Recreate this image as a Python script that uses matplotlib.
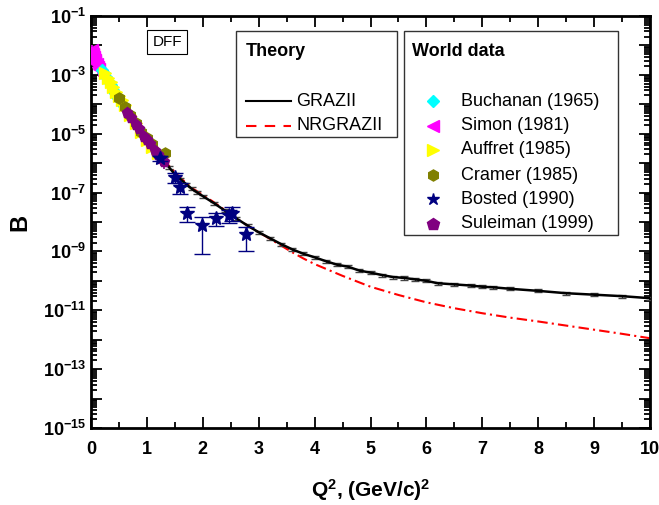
import numpy as np
import matplotlib
matplotlib.use('Agg')
import matplotlib.pyplot as plt
from matplotlib.ticker import FixedLocator, FuncFormatter, MultipleLocator
from matplotlib.patches import Rectangle
from matplotlib.lines import Line2D

plt.rcParams['font.family'] = ['Liberation Sans', 'DejaVu Sans']
plt.rcParams['mathtext.fontset'] = 'custom'
plt.rcParams['mathtext.rm'] = 'Liberation Sans:bold'
plt.rcParams['mathtext.bf'] = 'Liberation Sans:bold'
plt.rcParams['mathtext.default'] = 'bf'

# theory curves (Q^2, log10 B)
grazii_q = [0.05, 0.1, 0.2, 0.3, 0.4, 0.5, 0.6, 0.7, 0.8, 0.9, 1.0, 1.1, 1.2, 1.3,
            1.4, 1.5, 1.6, 1.7, 1.8, 1.9, 2.0, 2.2, 2.4, 2.6, 2.8, 3.0, 3.2, 3.4,
            3.6, 3.8, 4.0, 4.2, 4.4, 4.6, 4.8, 5.0, 5.2, 5.4, 5.6, 5.8, 6.0, 6.2,
            6.5, 6.8, 7.0, 7.2, 7.5, 8.0, 8.5, 9.0, 9.5, 10.0]
grazii_lg = [-2.33, -2.5, -2.8, -3.12, -3.48, -3.8, -4.1, -4.42, -4.72, -5.0, -5.22,
             -5.45, -5.68, -5.9, -6.15, -6.38, -6.55, -6.71, -6.87, -7.0, -7.12,
             -7.36, -7.62, -7.88, -8.12, -8.35, -8.55, -8.75, -8.93, -9.08, -9.2,
             -9.33, -9.45, -9.52, -9.65, -9.72, -9.8, -9.87, -9.9, -9.95, -10.0,
             -10.08, -10.12, -10.16, -10.2, -10.22, -10.27, -10.34, -10.42, -10.47,
             -10.52, -10.59]
nrg_q = [0.05, 0.1, 0.2, 0.3, 0.4, 0.5, 0.6, 0.7, 0.8, 0.9, 1.0, 1.2, 1.4, 1.6,
         1.8, 2.0, 2.2, 2.4, 2.6, 2.8, 3.0, 3.2, 3.4, 3.6, 3.8, 4.0, 4.5, 5.0,
         5.5, 6.0, 6.5, 7.0, 7.5, 8.0, 8.5, 9.0, 9.5, 10.0]
nrg_lg = [-2.33, -2.5, -2.8, -3.12, -3.48, -3.8, -4.1, -4.42, -4.72, -5.0, -5.22,
          -5.66, -6.1, -6.5, -6.84, -7.08, -7.33, -7.6, -7.88, -8.12, -8.35, -8.57,
          -8.8, -9.03, -9.24, -9.43, -9.83, -10.2, -10.48, -10.73, -10.93, -11.1,
          -11.25, -11.38, -11.52, -11.66, -11.8, -11.95]

# world data (Q^2, log10 B)
simon_q = [0.01, 0.02, 0.03, 0.04, 0.05, 0.06, 0.07, 0.08, 0.10, 0.12, 0.14]
simon_lg = [-2.15, -2.22, -2.3, -2.33, -2.38, -2.45, -2.5, -2.55, -2.62, -2.72, -2.8]
buch_q = [0.19, 0.23, 0.27, 0.31, 0.35, 0.39, 0.43, 0.47, 0.55]
buch_lg = [-2.85, -2.95, -3.08, -3.22, -3.35, -3.5, -3.62, -3.75, -3.98]
auff_q = [0.25, 0.3, 0.35, 0.4, 0.45, 0.5, 0.55, 0.6, 0.7, 0.8, 0.9, 1.0, 1.1, 1.2]
auff_lg = [-2.95, -3.1, -3.25, -3.42, -3.57, -3.72, -3.87, -4.02, -4.35, -4.65,
           -4.95, -5.2, -5.45, -5.65]
cram_q = [0.5, 0.6, 0.7, 0.8, 0.9, 1.0, 1.1, 1.33]
cram_lg = [-3.8, -4.08, -4.38, -4.65, -4.95, -5.15, -5.35, -5.66]
sule_q = [0.65, 0.72, 0.8, 0.85, 0.95, 1.0, 1.05, 1.15, 1.2, 1.25, 1.3]
sule_lg = [-4.3, -4.47, -4.7, -4.85, -5.1, -5.22, -5.35, -5.6, -5.72, -5.85, -5.95]
bost_q = [1.24, 1.51, 1.60, 1.72, 1.99, 2.23, 2.46, 2.53, 2.78]
bost_b = [1.5e-6, 3.3e-7, 1.5e-7, 2.1e-8, 7.8e-9, 1.35e-8, 1.7e-8, 2.1e-8, 4.0e-9]
bost_err = [3.0e-7, 1.2e-7, 6.0e-8, 1.1e-8, 7.0e-9, 6.0e-9, 8.0e-9, 1.05e-8, 3.0e-9]

fig = plt.figure(figsize=(6.59, 5.05), dpi=100)
L, R, T, Bt = 91, 650, 16, 428
W, H = 659, 505
ax = fig.add_axes([L / W, 1 - Bt / H, (R - L) / W, (Bt - T) / H])


def ax_x(px):
    return (px - L) / (R - L)


def ax_y(py):
    return (Bt - py) / (Bt - T)


def world(q, lg, color, marker, ms):
    b = 10 ** np.array(lg)
    ax.errorbar(q, b, xerr=0.07, yerr=0.45 * b, fmt=marker, color=color, ms=ms,
                mec=color, elinewidth=1.2, capsize=0, zorder=4)


# theory
gb = 10 ** np.array(grazii_lg)
ax.errorbar(grazii_q, gb, yerr=0.12 * gb, fmt='-', color='black', lw=1.8,
            elinewidth=0.8, ecolor='#444444', capsize=3, zorder=3)
ax.plot(nrg_q, 10 ** np.array(nrg_lg), color='red', lw=1.5,
        linestyle=(0, (5, 2, 1, 2)), zorder=2)

world(simon_q, simon_lg, '#ff00ff', '<', 8)
world(buch_q, buch_lg, '#00ffff', 'D', 6)
world(auff_q, auff_lg, '#ffff00', '>', 8)
world(cram_q, cram_lg, '#808000', 'h', 8)
world(sule_q, sule_lg, '#800080', 'p', 8)
ax.errorbar(bost_q, bost_b, yerr=bost_err, fmt='*', color='#000080', ms=10,
            elinewidth=1, capsize=6, zorder=5)

ax.set_yscale('log')
ax.set_xlim(0, 10)
ax.set_ylim(1e-15, 1e-1)
ax.xaxis.set_major_locator(MultipleLocator(1))
ax.xaxis.set_minor_locator(MultipleLocator(0.5))
ax.yaxis.set_major_locator(FixedLocator([10.0 ** e for e in range(-15, 0)]))
ax.yaxis.set_minor_locator(FixedLocator([m * 10.0 ** e for e in range(-15, -1)
                                         for m in range(2, 10)]))


def ylab(v, pos):
    e = int(round(np.log10(v)))
    if e % 2 == 0:
        return ''
    return r'$10^{%d}$' % e


ax.yaxis.set_major_formatter(FuncFormatter(ylab))
ax.xaxis.set_major_formatter(FuncFormatter(lambda v, p: '%d' % v))
ax.tick_params(which='both', direction='in', top=True, right=True, width=1.3)
ax.tick_params(which='major', length=8, labelsize=13)
ax.tick_params(axis='x', which='major', pad=9)
ax.tick_params(which='minor', length=4)
for lab in ax.get_xticklabels():
    lab.set_fontweight('bold')
for s in ax.spines.values():
    s.set_linewidth(2)

ax.set_xlabel(r'Q$^2$, (GeV/c)$^2$', fontsize=15, fontweight='bold', labelpad=14)
ax.set_ylabel('B', fontsize=17, fontweight='bold', labelpad=8)

# DFF box
ax.text(ax_x(167), ax_y(42), 'DFF', fontsize=11, ha='center', va='center',
        transform=ax.transAxes,
        bbox=dict(boxstyle='square,pad=0.35', fc='white', ec='black', lw=0.8))

# Theory box
ax.add_patch(Rectangle((ax_x(236), ax_y(137)), ax_x(397) - ax_x(236),
                       ax_y(31) - ax_y(137), transform=ax.transAxes,
                       fc='white', ec='#333333', lw=1, zorder=6))
ax.text(ax_x(246), ax_y(52), 'Theory', fontsize=13, fontweight='bold',
        va='center', transform=ax.transAxes, zorder=7)
ax.add_line(Line2D([ax_x(246), ax_x(291)], [ax_y(101), ax_y(101)], color='black',
                   lw=1.5, transform=ax.transAxes, zorder=7))
ax.add_line(Line2D([ax_x(246), ax_x(291)], [ax_y(126), ax_y(126)], color='red',
                   lw=1.5, linestyle=(0, (5, 4)), transform=ax.transAxes, zorder=7))
ax.text(ax_x(296), ax_y(101), 'GRAZII', fontsize=13, va='center',
        transform=ax.transAxes, zorder=7)
ax.text(ax_x(296), ax_y(126), 'NRGRAZII', fontsize=13, va='center',
        transform=ax.transAxes, zorder=7)

# World data box
ax.add_patch(Rectangle((ax_x(404), ax_y(235)), ax_x(618) - ax_x(404),
                       ax_y(31) - ax_y(235), transform=ax.transAxes,
                       fc='white', ec='#333333', lw=1, zorder=6))
ax.text(ax_x(412), ax_y(52), 'World data', fontsize=13, fontweight='bold',
        va='center', transform=ax.transAxes, zorder=7)
names = ['Buchanan (1965)', 'Simon (1981)', 'Auffret (1985)', 'Cramer (1985)',
         'Bosted (1990)', 'Suleiman (1999)']
styles = [('#00ffff', 'D', 6), ('#ff00ff', '<', 8), ('#ffff00', '>', 8),
          ('#808000', 'h', 8), ('#000080', '*', 9), ('#800080', 'p', 9)]
rows = [101, 126, 150, 175, 199, 224]
for name, (c, mk, ms), py in zip(names, styles, rows):
    ax.plot([ax_x(433)], [ax_y(py)], marker=mk, color=c, ms=ms, ls='none',
            transform=ax.transAxes, zorder=7)
    ax.text(ax_x(461), ax_y(py), name, fontsize=13, va='center',
            transform=ax.transAxes, zorder=7)

fig.savefig('out.png', dpi=100)
